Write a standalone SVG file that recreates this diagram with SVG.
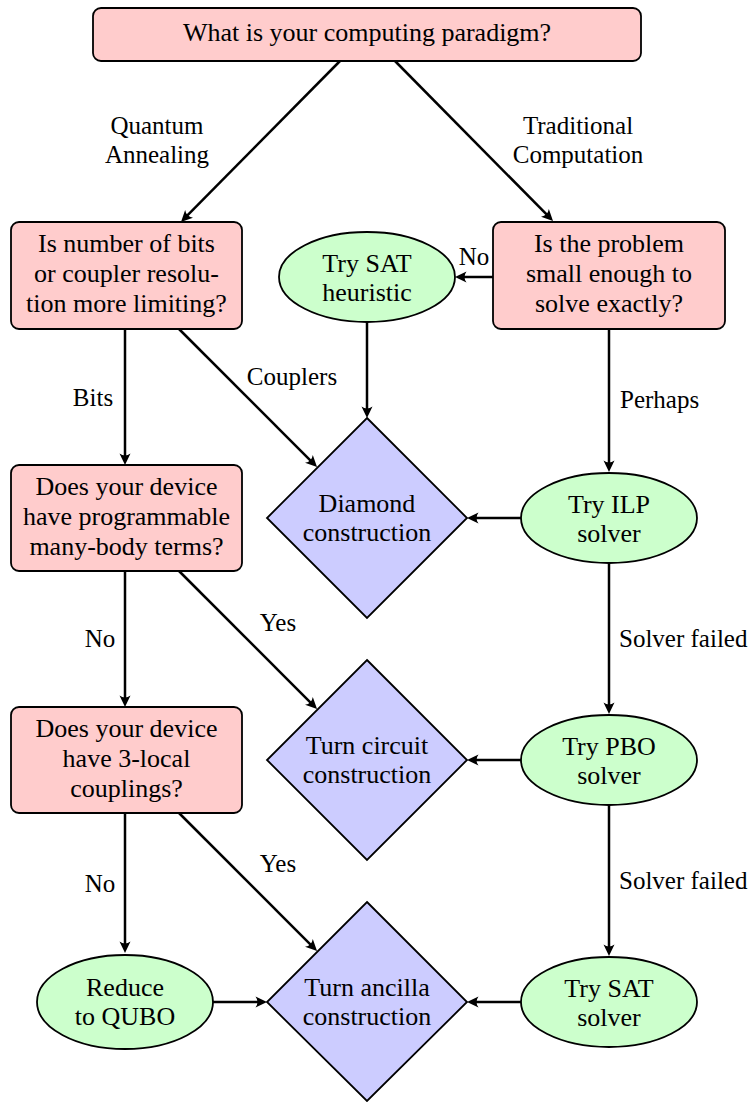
<svg xmlns="http://www.w3.org/2000/svg" width="751" height="1102" viewBox="0 0 751 1102">
<style>
.qbox{fill:#ffcccc;stroke:#000;stroke-width:1.8;}
.qell{fill:#ccffcc;stroke:#000;stroke-width:1.8;}
.qdia{fill:#ccccff;stroke:#000;stroke-width:1.8;}
.qedge{fill:none;stroke:#000;stroke-width:2.5;marker-end:url(#arr);}
</style>
<defs>
<marker id="arr" viewBox="-12 -7 13 14" refX="-6" refY="0" markerWidth="13" markerHeight="14" markerUnits="userSpaceOnUse" orient="auto">
<path d="M0,0 L-11.5,-5.5 Q-7.5,0 -11.5,5.5 Z" fill="#000"/>
</marker>
</defs>
<rect width="751" height="1102" fill="#fff"/>
<g id="connectors">
<line class="qedge" x1="340" y1="61" x2="185.2" y2="217.7"/>
<line class="qedge" x1="395" y1="61" x2="548.8" y2="216.7"/>
<line class="qedge" x1="125" y1="329" x2="125" y2="459"/>
<line class="qedge" x1="179" y1="329" x2="312.8" y2="462.8"/>
<line class="qedge" x1="367" y1="322" x2="367" y2="412"/>
<line class="qedge" x1="493" y1="277" x2="461" y2="277"/>
<line class="qedge" x1="609" y1="329" x2="609" y2="466"/>
<line class="qedge" x1="522" y1="518" x2="473" y2="518"/>
<line class="qedge" x1="125" y1="571" x2="125" y2="701"/>
<line class="qedge" x1="179" y1="571" x2="312.8" y2="704.8"/>
<line class="qedge" x1="609" y1="563" x2="609" y2="708"/>
<line class="qedge" x1="522" y1="760" x2="473" y2="760"/>
<line class="qedge" x1="125" y1="813" x2="125" y2="947"/>
<line class="qedge" x1="179" y1="813" x2="312.8" y2="946.8"/>
<line class="qedge" x1="609" y1="805" x2="609" y2="950"/>
<line class="qedge" x1="522" y1="1002" x2="473" y2="1002"/>
<line class="qedge" x1="213" y1="1002" x2="261" y2="1002"/>
<text x="157" y="134" font-size="25" font-family="Liberation Serif" text-anchor="middle">Quantum</text>
<text x="157" y="163" font-size="25" font-family="Liberation Serif" text-anchor="middle">Annealing</text>
<text x="578" y="134" font-size="25" font-family="Liberation Serif" text-anchor="middle">Traditional</text>
<text x="578" y="163" font-size="25" font-family="Liberation Serif" text-anchor="middle">Computation</text>
<text x="93" y="406" font-size="25" font-family="Liberation Serif" text-anchor="middle">Bits</text>
<text x="292" y="385" font-size="25" font-family="Liberation Serif" text-anchor="middle">Couplers</text>
<text x="474" y="265" font-size="25" font-family="Liberation Serif" text-anchor="middle">No</text>
<text x="620" y="408" font-size="25" font-family="Liberation Serif">Perhaps</text>
<text x="100" y="647" font-size="25" font-family="Liberation Serif" text-anchor="middle">No</text>
<text x="278" y="631" font-size="25" font-family="Liberation Serif" text-anchor="middle">Yes</text>
<text x="619" y="647" font-size="25" font-family="Liberation Serif">Solver failed</text>
<text x="100" y="892" font-size="25" font-family="Liberation Serif" text-anchor="middle">No</text>
<text x="278" y="872" font-size="25" font-family="Liberation Serif" text-anchor="middle">Yes</text>
<text x="619" y="889" font-size="25" font-family="Liberation Serif">Solver failed</text>
</g>
<g id="paradigm">
<rect class="qbox" x="93" y="8" width="548" height="53" rx="8"/>
<text x="367" y="41" font-size="26" font-family="Liberation Serif" text-anchor="middle">What is your computing paradigm?</text>
</g>
<g id="bits_or_couplers">
<rect class="qbox" x="11" y="222" width="231" height="107" rx="8"/>
<text x="126.5" y="252" font-size="26" font-family="Liberation Serif" text-anchor="middle">Is number of bits</text>
<text x="126.5" y="282" font-size="26" font-family="Liberation Serif" text-anchor="middle">or coupler resolu-</text>
<text x="126.5" y="312" font-size="26" font-family="Liberation Serif" text-anchor="middle">tion more limiting?</text>
</g>
<g id="small_enough">
<rect class="qbox" x="493" y="222" width="232" height="107" rx="8"/>
<text x="609" y="252" font-size="26" font-family="Liberation Serif" text-anchor="middle">Is the problem</text>
<text x="609" y="282" font-size="26" font-family="Liberation Serif" text-anchor="middle">small enough to</text>
<text x="609" y="312" font-size="26" font-family="Liberation Serif" text-anchor="middle">solve exactly?</text>
</g>
<g id="sat_heuristic">
<ellipse class="qell" cx="367" cy="277" rx="88" ry="45"/>
<text x="367" y="272" font-size="26" font-family="Liberation Serif" text-anchor="middle">Try SAT</text>
<text x="367" y="301" font-size="26" font-family="Liberation Serif" text-anchor="middle">heuristic</text>
</g>
<g id="many_body">
<rect class="qbox" x="11" y="465" width="231" height="106" rx="8"/>
<text x="126.5" y="495" font-size="26" font-family="Liberation Serif" text-anchor="middle">Does your device</text>
<text x="126.5" y="525" font-size="26" font-family="Liberation Serif" text-anchor="middle">have programmable</text>
<text x="126.5" y="555" font-size="26" font-family="Liberation Serif" text-anchor="middle">many-body terms?</text>
</g>
<g id="diamond">
<polygon class="qdia" points="367,418 467,518 367,618 267,518"/>
<text x="367" y="512" font-size="26" font-family="Liberation Serif" text-anchor="middle">Diamond</text>
<text x="367" y="541" font-size="26" font-family="Liberation Serif" text-anchor="middle">construction</text>
</g>
<g id="ilp">
<ellipse class="qell" cx="609" cy="518" rx="88" ry="45"/>
<text x="609" y="513" font-size="26" font-family="Liberation Serif" text-anchor="middle">Try ILP</text>
<text x="609" y="542" font-size="26" font-family="Liberation Serif" text-anchor="middle">solver</text>
</g>
<g id="three_local">
<rect class="qbox" x="11" y="707" width="231" height="106" rx="8"/>
<text x="126.5" y="737" font-size="26" font-family="Liberation Serif" text-anchor="middle">Does your device</text>
<text x="126.5" y="767" font-size="26" font-family="Liberation Serif" text-anchor="middle">have 3-local</text>
<text x="126.5" y="797" font-size="26" font-family="Liberation Serif" text-anchor="middle">couplings?</text>
</g>
<g id="turn_circuit">
<polygon class="qdia" points="367,660 467,760 367,860 267,760"/>
<text x="367" y="754" font-size="26" font-family="Liberation Serif" text-anchor="middle">Turn circuit</text>
<text x="367" y="783" font-size="26" font-family="Liberation Serif" text-anchor="middle">construction</text>
</g>
<g id="pbo">
<ellipse class="qell" cx="609" cy="760" rx="88" ry="45"/>
<text x="609" y="755" font-size="26" font-family="Liberation Serif" text-anchor="middle">Try PBO</text>
<text x="609" y="784" font-size="26" font-family="Liberation Serif" text-anchor="middle">solver</text>
</g>
<g id="qubo">
<ellipse class="qell" cx="125" cy="1002" rx="88" ry="47"/>
<text x="125" y="996" font-size="26" font-family="Liberation Serif" text-anchor="middle">Reduce</text>
<text x="125" y="1025" font-size="26" font-family="Liberation Serif" text-anchor="middle">to QUBO</text>
</g>
<g id="turn_ancilla">
<polygon class="qdia" points="367,902 467,1002 367,1101 267,1002"/>
<text x="367" y="996" font-size="26" font-family="Liberation Serif" text-anchor="middle">Turn ancilla</text>
<text x="367" y="1025" font-size="26" font-family="Liberation Serif" text-anchor="middle">construction</text>
</g>
<g id="sat_solver">
<ellipse class="qell" cx="609" cy="1002" rx="88" ry="45"/>
<text x="609" y="997" font-size="26" font-family="Liberation Serif" text-anchor="middle">Try SAT</text>
<text x="609" y="1026" font-size="26" font-family="Liberation Serif" text-anchor="middle">solver</text>
</g>
</svg>
